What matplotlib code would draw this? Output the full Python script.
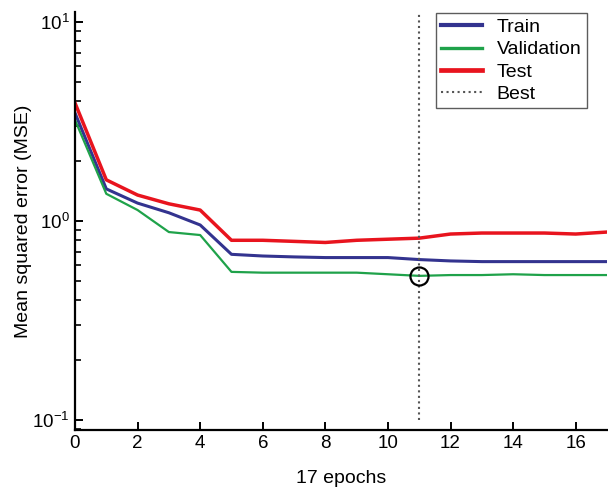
import matplotlib
matplotlib.use("Agg")
import matplotlib.pyplot as plt
from matplotlib.ticker import LogLocator, NullFormatter

epochs = list(range(18))
train = [3.49, 1.45, 1.23, 1.10, 0.955, 0.68, 0.667, 0.66, 0.655, 0.655, 0.655, 0.64, 0.63, 0.625, 0.625, 0.625, 0.625, 0.625]
validation = [3.22, 1.37, 1.135, 0.88, 0.85, 0.555, 0.55, 0.55, 0.55, 0.55, 0.54, 0.53, 0.535, 0.535, 0.54, 0.535, 0.535, 0.535]
test = [3.92, 1.61, 1.35, 1.22, 1.135, 0.80, 0.80, 0.79, 0.78, 0.80, 0.81, 0.82, 0.86, 0.87, 0.87, 0.87, 0.86, 0.88]
best_epoch = 11
best_value = 0.53

plt.rcParams['font.family'] = ['Liberation Sans', 'DejaVu Sans']

fig = plt.figure(figsize=(6.08, 4.88), dpi=100)
ax = fig.add_axes([75/608, 58/488, 532/608, 418/488])

ax.plot(epochs, train, color='#33338f', lw=2.2, label='Train')
ax.plot(epochs, validation, color='#1fa24a', lw=1.6, label='Validation')
ax.plot(epochs, test, color='#e8141e', lw=2.5, label='Test')
ax.plot([best_epoch, best_epoch], [0.1, 11.3], color='#555555', lw=1.5, ls=':', label='Best')
ax.plot([best_epoch], [best_value], marker='o', markersize=13, markerfacecolor='none',
        markeredgecolor='black', markeredgewidth=1.6)

ax.set_yscale('log')
ax.set_ylim(10**-1.0503, 10**1.0503)
ax.set_xlim(0, 17)
ax.set_xticks(range(0, 17, 2))
ax.yaxis.set_major_locator(LogLocator(base=10, numticks=10))
ax.yaxis.set_minor_locator(LogLocator(base=10, subs=range(2, 10), numticks=10))
ax.yaxis.set_minor_formatter(NullFormatter())

for s in ['top', 'right']:
    ax.spines[s].set_visible(False)
for s in ['left', 'bottom']:
    ax.spines[s].set_linewidth(1.6)

ax.tick_params(axis='both', which='major', direction='in', length=6, width=1.4, labelsize=13.5)
ax.tick_params(axis='y', which='minor', direction='in', length=4, width=1.2)
ax.tick_params(axis='x', which='minor', bottom=False)
ax.tick_params(axis='y', which='major', pad=4)

ax.set_ylabel('Mean squared error (MSE)', fontsize=14, labelpad=0)
ax.set_xlabel('17 epochs', fontsize=14, labelpad=13)

leg = ax.legend(loc='upper left', bbox_to_anchor=(436/608, (488-13)/488),
                bbox_transform=fig.transFigure, borderaxespad=0, fontsize=14,
                frameon=True, fancybox=False, edgecolor='#333333', handlelength=2.1,
                borderpad=0.28, labelspacing=0.24, handletextpad=0.75)
leg.get_frame().set_linewidth(1.0)
for h, w in zip(leg.get_lines(), [3.0, 2.4, 3.4, 1.5]):
    h.set_linewidth(w)

fig.savefig('out.png', dpi=100)
